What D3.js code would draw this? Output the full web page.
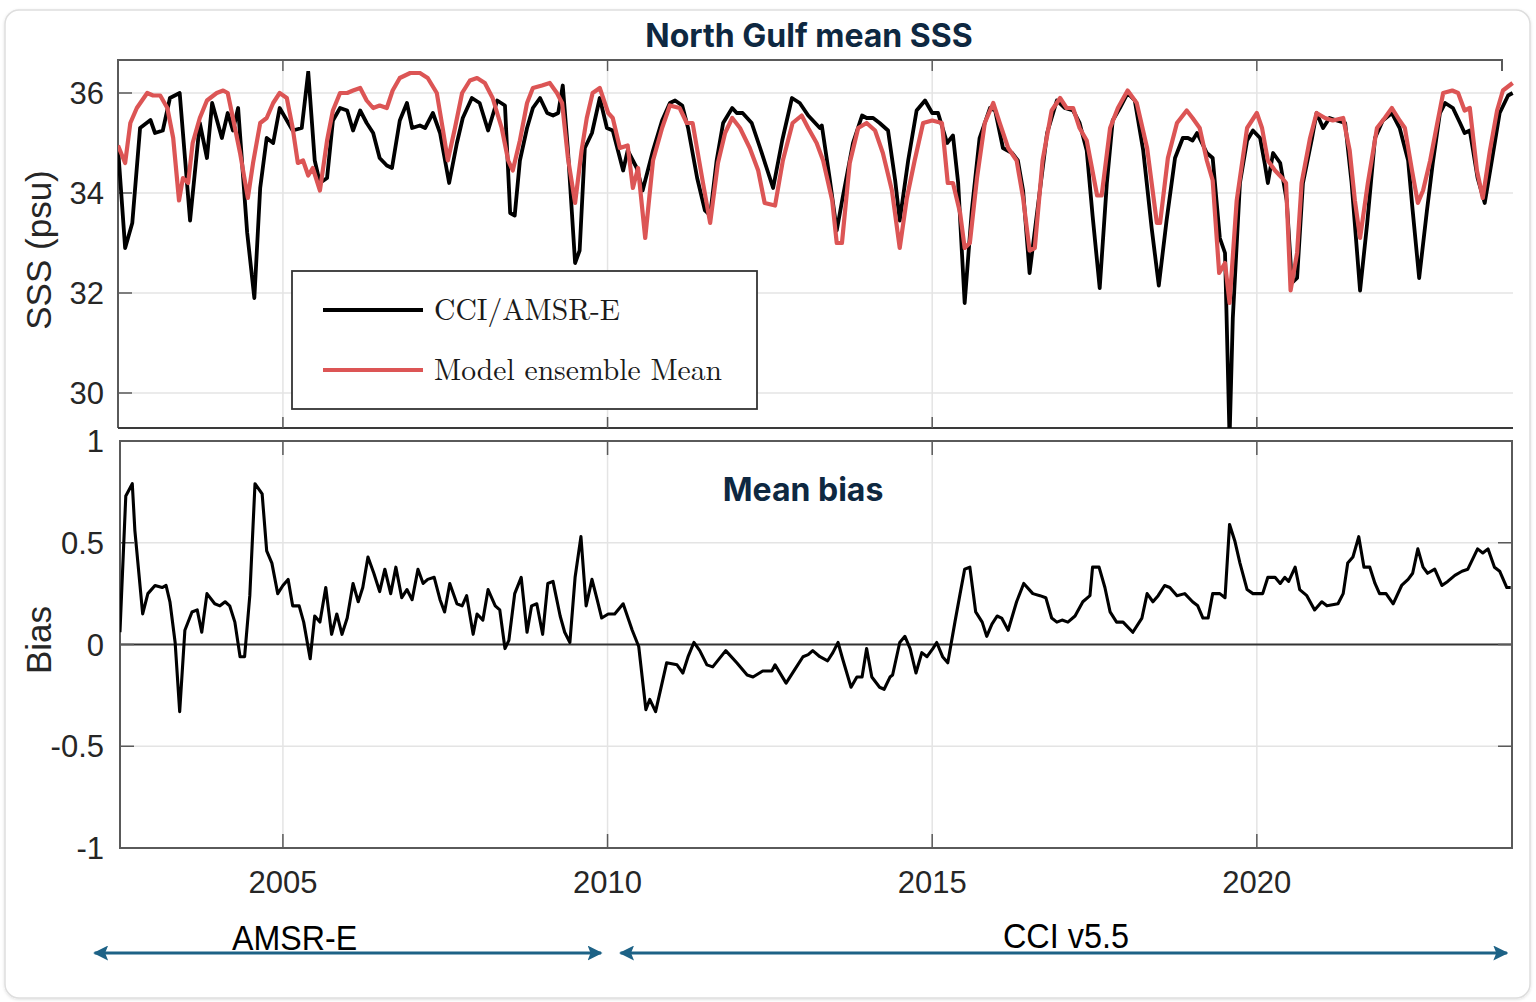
<!DOCTYPE html>
<html>
<head>
<meta charset="utf-8">
<script src="https://cdn.jsdelivr.net/npm/d3@7"></script>
<style>
  html, body { margin: 0; padding: 0; background: #ffffff; }
  svg { display: block; }
</style>
</head>
<body>
<svg id="chart" width="1536" height="1002"></svg>
<script>
// ---- Data -------------------------------------------------------------
// Satellite SSS (CCI / AMSR-E), decimal year and psu
const obsYear = [2002.46,2002.57,2002.68,2002.80,2002.96,2003.03,2003.15,2003.26,2003.41,2003.57,2003.72,2003.83,2003.91,2004.06,2004.15,2004.23,2004.31,2004.45,2004.56,2004.65,2004.75,2004.85,2004.95,2005.15,2005.29,2005.39,2005.49,2005.57,2005.68,2005.77,2005.88,2005.99,2006.08,2006.19,2006.29,2006.39,2006.49,2006.60,2006.68,2006.80,2006.91,2006.99,2007.11,2007.19,2007.31,2007.42,2007.56,2007.68,2007.77,2007.91,2008.03,2008.16,2008.30,2008.42,2008.50,2008.57,2008.65,2008.76,2008.85,2008.96,2009.07,2009.16,2009.24,2009.31,2009.39,2009.50,2009.57,2009.65,2009.76,2009.88,2009.99,2010.08,2010.16,2010.24,2010.31,2010.45,2010.54,2010.70,2010.84,2010.96,2011.04,2011.15,2011.24,2011.38,2011.50,2011.58,2011.68,2011.78,2011.92,2011.99,2012.08,2012.22,2012.35,2012.45,2012.55,2012.69,2012.84,2012.96,2013.09,2013.27,2013.30,2013.42,2013.53,2013.62,2013.78,2013.92,2013.99,2014.09,2014.19,2014.32,2014.43,2014.50,2014.63,2014.76,2014.89,2015.00,2015.09,2015.23,2015.32,2015.40,2015.50,2015.61,2015.73,2015.89,2015.97,2016.09,2016.23,2016.32,2016.40,2016.50,2016.61,2016.77,2016.92,2017.04,2017.17,2017.27,2017.38,2017.47,2017.58,2017.69,2017.78,2017.89,2018.01,2018.12,2018.25,2018.38,2018.49,2018.61,2018.74,2018.86,2018.94,2019.01,2019.08,2019.23,2019.32,2019.43,2019.51,2019.58,2019.63,2019.74,2019.85,2019.94,2020.05,2020.12,2020.17,2020.25,2020.36,2020.46,2020.54,2020.62,2020.71,2020.85,2020.92,2021.02,2021.12,2021.23,2021.36,2021.46,2021.59,2021.70,2021.82,2021.94,2022.08,2022.20,2022.33,2022.40,2022.50,2022.62,2022.71,2022.82,2022.90,2023.02,2023.13,2023.20,2023.28,2023.40,2023.51,2023.62,2023.74,2023.87,2023.94];
const obsSSS = [34.9,32.9,33.4,35.3,35.46,35.2,35.25,35.9,36.0,33.45,35.4,34.7,35.8,35.1,35.6,35.25,35.7,33.2,31.9,34.1,35.1,35.0,35.7,35.25,35.3,36.42,34.65,34.2,34.3,35.45,35.7,35.65,35.25,35.65,35.4,35.2,34.7,34.55,34.5,35.45,35.8,35.3,35.35,35.3,35.6,35.2,34.2,35.0,35.5,35.9,35.8,35.25,35.85,35.75,33.6,33.55,34.65,35.3,35.7,35.9,35.6,35.55,35.6,36.15,34.85,32.6,32.85,34.9,35.2,35.9,35.3,35.25,34.85,34.45,34.85,34.5,34.05,34.85,35.45,35.8,35.85,35.75,35.3,34.3,33.65,33.55,34.65,35.4,35.7,35.6,35.6,35.4,34.9,34.5,34.1,35.05,35.9,35.8,35.55,35.3,35.35,34.3,33.25,33.9,35.0,35.55,35.5,35.5,35.4,35.25,34.25,33.45,34.65,35.65,35.85,35.6,35.6,35.0,35.15,34.2,31.8,33.65,35.1,35.7,35.65,34.9,34.8,34.65,34.05,32.4,33.55,35.2,35.85,35.7,35.65,35.4,34.85,33.55,32.1,34.2,35.45,35.7,36.0,35.85,34.85,33.3,32.15,33.45,34.7,35.1,35.1,35.05,35.2,34.8,34.7,33.1,32.8,29.1,31.5,34.2,35.05,35.25,35.1,34.6,34.2,34.8,34.6,33.85,32.2,32.3,34.2,35.1,35.6,35.3,35.5,35.45,35.4,34.2,32.05,33.4,35.1,35.45,35.6,35.3,34.65,33.65,32.3,33.65,34.6,35.6,35.8,35.7,35.4,35.2,35.25,34.3,33.8,34.65,35.6,35.95,36.0];

// Model ensemble mean SSS, decimal year and psu
const modelYear = [2002.46,2002.57,2002.65,2002.75,2002.91,2003.00,2003.11,2003.22,2003.31,2003.40,2003.46,2003.54,2003.61,2003.72,2003.83,2003.98,2004.08,2004.15,2004.23,2004.34,2004.46,2004.54,2004.65,2004.75,2004.85,2004.95,2005.06,2005.15,2005.23,2005.31,2005.39,2005.46,2005.57,2005.68,2005.77,2005.88,2005.99,2006.08,2006.19,2006.29,2006.39,2006.49,2006.60,2006.69,2006.80,2006.96,2007.11,2007.23,2007.37,2007.46,2007.54,2007.65,2007.76,2007.88,2007.99,2008.11,2008.23,2008.37,2008.47,2008.54,2008.65,2008.76,2008.85,2008.99,2009.11,2009.22,2009.30,2009.39,2009.50,2009.60,2009.68,2009.77,2009.88,2010.01,2010.08,2010.19,2010.31,2010.39,2010.47,2010.58,2010.70,2010.84,2010.96,2011.11,2011.22,2011.31,2011.47,2011.58,2011.70,2011.81,2011.92,2012.04,2012.19,2012.32,2012.42,2012.58,2012.70,2012.85,2012.99,2013.09,2013.22,2013.32,2013.46,2013.53,2013.61,2013.73,2013.86,2013.99,2014.12,2014.24,2014.38,2014.50,2014.61,2014.73,2014.86,2015.00,2015.15,2015.24,2015.32,2015.43,2015.50,2015.58,2015.69,2015.81,2015.94,2016.04,2016.17,2016.30,2016.40,2016.50,2016.58,2016.70,2016.84,2016.97,2017.07,2017.17,2017.27,2017.38,2017.54,2017.61,2017.74,2017.86,2018.01,2018.15,2018.31,2018.46,2018.51,2018.63,2018.77,2018.92,2019.01,2019.12,2019.23,2019.32,2019.42,2019.51,2019.58,2019.69,2019.85,2020.00,2020.08,2020.17,2020.28,2020.39,2020.45,2020.52,2020.62,2020.69,2020.82,2020.92,2021.05,2021.17,2021.33,2021.43,2021.51,2021.59,2021.71,2021.85,2021.97,2022.08,2022.20,2022.28,2022.39,2022.48,2022.56,2022.67,2022.78,2022.87,2023.01,2023.10,2023.20,2023.28,2023.39,2023.48,2023.59,2023.70,2023.79,2023.94];
const modelSSS = [34.95,34.6,35.4,35.7,36.0,35.95,35.95,35.7,35.1,33.85,34.3,34.2,35.0,35.5,35.85,36.0,36.05,36.0,35.5,34.8,33.9,34.6,35.4,35.5,35.8,36.0,35.9,35.3,34.6,34.65,34.35,34.5,34.05,35.05,35.65,36.0,36.0,36.05,36.1,35.85,35.7,35.75,35.7,36.05,36.3,36.4,36.4,36.3,36.0,35.3,34.65,35.3,36.0,36.25,36.3,36.2,35.9,35.3,34.65,34.45,35.05,35.8,36.1,36.15,36.2,36.0,35.8,34.7,33.8,34.85,35.5,36.0,36.1,35.6,35.5,34.9,34.95,34.1,34.5,33.1,34.65,35.3,35.75,35.7,35.4,35.4,34.2,33.4,34.6,35.2,35.5,35.3,34.9,34.45,33.8,33.75,34.65,35.4,35.55,35.3,35.0,34.65,33.85,33.0,33.0,34.6,35.3,35.4,35.25,34.8,34.05,32.9,33.9,34.65,35.4,35.45,35.4,34.2,34.2,33.6,32.9,33.0,34.3,35.4,35.8,35.4,34.9,34.65,33.9,32.85,32.9,34.65,35.65,35.9,35.7,35.7,35.3,35.05,33.95,33.95,35.3,35.7,36.05,35.8,34.9,33.4,33.4,34.7,35.4,35.65,35.5,35.3,34.65,34.25,32.4,32.6,31.8,33.85,35.3,35.6,35.3,34.65,34.45,34.3,34.2,32.05,32.8,34.2,35.1,35.6,35.5,35.45,35.5,34.85,33.85,33.1,34.2,35.3,35.5,35.7,35.45,35.3,34.45,33.8,34.05,34.65,35.4,36.0,36.05,36.0,35.65,35.7,34.45,33.9,34.85,35.65,36.05,36.2];

// Mean bias, decimal year and psu
const biasYear = [2002.49,2002.58,2002.68,2002.72,2002.84,2002.92,2003.03,2003.14,2003.20,2003.26,2003.34,2003.41,2003.49,2003.60,2003.68,2003.75,2003.83,2003.95,2004.03,2004.11,2004.18,2004.26,2004.34,2004.41,2004.49,2004.57,2004.68,2004.75,2004.83,2004.92,2005.00,2005.08,2005.15,2005.25,2005.32,2005.42,2005.49,2005.57,2005.66,2005.75,2005.83,2005.91,2005.99,2006.08,2006.16,2006.23,2006.31,2006.40,2006.49,2006.57,2006.66,2006.74,2006.83,2006.91,2006.99,2007.08,2007.16,2007.23,2007.33,2007.42,2007.49,2007.57,2007.68,2007.76,2007.83,2007.93,2007.99,2008.08,2008.16,2008.27,2008.34,2008.42,2008.48,2008.57,2008.67,2008.76,2008.83,2008.91,2009.00,2009.08,2009.16,2009.27,2009.34,2009.42,2009.50,2009.59,2009.67,2009.76,2009.84,2009.91,2010.01,2010.11,2010.24,2010.38,2010.48,2010.59,2010.65,2010.74,2010.91,2011.07,2011.16,2011.24,2011.33,2011.42,2011.53,2011.62,2011.82,2011.99,2012.15,2012.24,2012.39,2012.53,2012.58,2012.75,2012.89,2013.01,2013.09,2013.16,2013.27,2013.39,2013.47,2013.55,2013.62,2013.75,2013.84,2013.92,2013.99,2014.07,2014.19,2014.26,2014.35,2014.39,2014.50,2014.58,2014.66,2014.75,2014.84,2014.92,2015.01,2015.07,2015.16,2015.24,2015.35,2015.43,2015.50,2015.58,2015.67,2015.77,2015.84,2015.92,2016.00,2016.07,2016.17,2016.30,2016.41,2016.55,2016.66,2016.75,2016.84,2016.92,2017.00,2017.09,2017.20,2017.32,2017.43,2017.47,2017.57,2017.66,2017.74,2017.84,2017.94,2018.09,2018.23,2018.31,2018.40,2018.48,2018.58,2018.66,2018.77,2018.89,2019.01,2019.09,2019.17,2019.25,2019.32,2019.43,2019.51,2019.58,2019.66,2019.74,2019.85,2019.94,2020.05,2020.09,2020.17,2020.28,2020.36,2020.43,2020.49,2020.59,2020.66,2020.77,2020.89,2021.00,2021.08,2021.25,2021.33,2021.40,2021.48,2021.57,2021.65,2021.74,2021.82,2021.89,2021.99,2022.10,2022.23,2022.33,2022.40,2022.48,2022.56,2022.63,2022.74,2022.85,2022.94,2023.05,2023.16,2023.25,2023.40,2023.48,2023.56,2023.66,2023.74,2023.85,2023.91];
const biasVal = [0.06,0.73,0.79,0.56,0.15,0.25,0.29,0.28,0.29,0.21,0.01,-0.33,0.07,0.16,0.17,0.06,0.25,0.20,0.19,0.21,0.19,0.11,-0.06,-0.06,0.24,0.79,0.74,0.46,0.40,0.25,0.29,0.32,0.19,0.19,0.11,-0.07,0.14,0.11,0.28,0.05,0.15,0.05,0.13,0.30,0.21,0.28,0.43,0.35,0.26,0.37,0.25,0.38,0.23,0.27,0.22,0.37,0.30,0.32,0.33,0.22,0.16,0.30,0.20,0.19,0.24,0.05,0.15,0.12,0.27,0.19,0.17,-0.02,0.02,0.25,0.33,0.06,0.19,0.20,0.05,0.30,0.31,0.14,0.06,0.01,0.33,0.53,0.19,0.32,0.22,0.13,0.15,0.15,0.20,0.07,-0.01,-0.32,-0.27,-0.33,-0.09,-0.10,-0.14,-0.06,0.01,-0.03,-0.10,-0.11,-0.03,-0.09,-0.15,-0.16,-0.13,-0.13,-0.10,-0.19,-0.12,-0.06,-0.05,-0.03,-0.06,-0.08,-0.04,0.01,-0.07,-0.21,-0.16,-0.16,-0.02,-0.16,-0.21,-0.22,-0.16,-0.15,0.01,0.04,-0.02,-0.14,-0.04,-0.06,-0.02,0.01,-0.06,-0.09,0.11,0.25,0.37,0.38,0.16,0.11,0.04,0.10,0.14,0.13,0.07,0.21,0.30,0.25,0.24,0.23,0.13,0.11,0.12,0.11,0.14,0.21,0.24,0.38,0.38,0.28,0.16,0.11,0.11,0.06,0.13,0.25,0.21,0.24,0.29,0.28,0.24,0.25,0.21,0.19,0.13,0.13,0.25,0.25,0.23,0.59,0.51,0.40,0.27,0.25,0.25,0.25,0.33,0.33,0.30,0.33,0.31,0.38,0.27,0.24,0.17,0.21,0.19,0.20,0.25,0.40,0.43,0.53,0.38,0.38,0.30,0.25,0.25,0.20,0.29,0.32,0.35,0.47,0.38,0.35,0.37,0.29,0.31,0.34,0.36,0.37,0.47,0.45,0.47,0.38,0.36,0.28,0.28];

// Axis ticks
const yearTicks = [2005, 2010, 2015, 2020];
const sssTicks = [30, 32, 34, 36];
const biasTicks = [-1, -0.5, 0, 0.5, 1];
const biasTickLabels = ["-1", "-0.5", "0", "0.5", "1"];

// Legend entries and satellite periods
const legendLabels = ["CCI/AMSR-E", "Model ensemble Mean"];
const periodLabels = ["AMSR-E", "CCI v5.5"];
const periodStart = [2002.1, 2010.2];
const periodEnd = [2009.9, 2023.85];
const periodLabelYear = [2005.18, 2017.06];

// ---- Layout ------------------------------------------------------------
const svg = d3.select("#chart");
const C_OBS = "#000000";
const C_MODEL = "#dc5555";
const C_TEXT = "#262626";
const C_TITLE = "#0e2841";
const C_GRID = "#e4e4e4";
const C_AXIS = "#5a5a5a";
const C_ARROW = "#1d6286";
const TICK_FONT = "'Liberation Sans', Arial, Helvetica, sans-serif";

const x = d3.scaleLinear().domain([2002.46, 2023.93]).range([118, 1512]);
const ySSS = d3.scaleLinear().domain([29.3, 36.66]).range([428, 60]);
const yBias = d3.scaleLinear().domain([-1, 1]).range([848, 441]);

// card background, clip regions and arrow heads
svg.append("defs").html(`
  <filter id="cardShadow" x="-2%" y="-2%" width="104%" height="104%">
    <feDropShadow dx="0" dy="1" stdDeviation="1.5" flood-color="#000" flood-opacity="0.12"/>
  </filter>
  <clipPath id="clipTop"><rect x="118" y="71" width="1396" height="357"/></clipPath>
  <clipPath id="clipBottom"><rect x="120" y="441" width="1392" height="407"/></clipPath>
  <marker id="arrowHead" viewBox="0 0 10 10" refX="9" refY="5" markerWidth="5" markerHeight="5" orient="auto-start-reverse" markerUnits="strokeWidth">
    <path d="M0,0 L10,5 L0,10 L2,5 Z" fill="${C_ARROW}"/>
  </marker>
`);
svg.append("rect")
  .attr("x", 5).attr("y", 10).attr("width", 1525).attr("height", 988)
  .attr("rx", 14).attr("fill", "#ffffff")
  .attr("stroke", "#dedede").attr("stroke-width", 1.5)
  .attr("filter", "url(#cardShadow)");

// ---- Top panel: SSS ----------------------------------------------------
const sssPanel = svg.append("g");

// horizontal grid
sssPanel.append("g").selectAll("line").data(sssTicks).join("line")
  .attr("x1", 118).attr("x2", 1513)
  .attr("y1", d => ySSS(d)).attr("y2", d => ySSS(d))
  .attr("stroke", C_GRID).attr("stroke-width", 1.5);
// vertical grid
sssPanel.append("g").selectAll("line").data(yearTicks).join("line")
  .attr("x1", d => x(d)).attr("x2", d => x(d))
  .attr("y1", 71).attr("y2", 428)
  .attr("stroke", C_GRID).attr("stroke-width", 1.5);

// frame
sssPanel.append("path")
  .attr("d", `M118,428 L118,60 L1502,60 L1502,71`)
  .attr("fill", "none").attr("stroke", C_AXIS).attr("stroke-width", 2);
sssPanel.append("line")
  .attr("x1", 118).attr("x2", 1513).attr("y1", 428).attr("y2", 428)
  .attr("stroke", "#3a3a3a").attr("stroke-width", 2);

// tick marks
sssPanel.append("g").selectAll("line").data(yearTicks).join("line")
  .attr("x1", d => x(d)).attr("x2", d => x(d))
  .attr("y1", 60).attr("y2", 71)
  .attr("stroke", C_AXIS).attr("stroke-width", 1.5);
sssPanel.append("g").selectAll("line").data(yearTicks).join("line")
  .attr("x1", d => x(d)).attr("x2", d => x(d))
  .attr("y1", 417).attr("y2", 428)
  .attr("stroke", C_AXIS).attr("stroke-width", 1.5);
sssPanel.append("g").selectAll("line").data(sssTicks).join("line")
  .attr("x1", 118).attr("x2", 132)
  .attr("y1", d => ySSS(d)).attr("y2", d => ySSS(d))
  .attr("stroke", C_AXIS).attr("stroke-width", 1.5);

// y tick labels
sssPanel.append("g").selectAll("text").data(sssTicks).join("text")
  .attr("x", 104).attr("y", d => ySSS(d))
  .attr("dy", "0.36em")
  .attr("text-anchor", "end")
  .attr("font-family", TICK_FONT).attr("font-size", 31)
  .attr("fill", C_TEXT)
  .text(d => d);

// y axis label
sssPanel.append("text")
  .attr("transform", "translate(51,250) rotate(-90)")
  .attr("text-anchor", "middle")
  .attr("font-family", TICK_FONT).attr("font-size", 35)
  .attr("fill", C_TEXT)
  .text("SSS (psu)");

// series lines
const lineSSS = d3.line().x(d => x(d[0])).y(d => ySSS(d[1])).curve(d3.curveLinear);
const obsPts = d3.zip(obsYear, obsSSS);
const modelPts = d3.zip(modelYear, modelSSS);
const plotTop = sssPanel.append("g").attr("clip-path", "url(#clipTop)");
plotTop.append("path").datum(obsPts)
  .attr("d", lineSSS)
  .attr("fill", "none").attr("stroke", C_OBS)
  .attr("stroke-width", 3.8).attr("stroke-linejoin", "round");
plotTop.append("path").datum(modelPts)
  .attr("d", lineSSS)
  .attr("fill", "none").attr("stroke", C_MODEL)
  .attr("stroke-width", 4.2).attr("stroke-linejoin", "round");

// title
svg.append("text")
  .attr("x", 809).attr("y", 47)
  .attr("text-anchor", "middle")
  .attr("font-family", "Inter, 'Open Sans', sans-serif")
  .attr("font-weight", 700).attr("font-size", 32)
  .attr("fill", C_TITLE)
  .text("North Gulf mean SSS");

// legend
const legend = svg.append("g");
legend.append("rect")
  .attr("x", 292).attr("y", 271).attr("width", 465).attr("height", 138)
  .attr("fill", "#ffffff").attr("stroke", "#333333").attr("stroke-width", 1.8);
const legendColors = [C_OBS, C_MODEL];
const legendRowY = [310, 370];
legend.selectAll("line.key").data(legendLabels).join("line")
  .attr("class", "key")
  .attr("x1", 323).attr("x2", 423)
  .attr("y1", (d, i) => legendRowY[i]).attr("y2", (d, i) => legendRowY[i])
  .attr("stroke", (d, i) => legendColors[i]).attr("stroke-width", 3.8);
const legendWidths = [186, 288];
legend.selectAll("text").data(legendLabels).join("text")
  .attr("x", 434).attr("y", (d, i) => legendRowY[i] + 10)
  .attr("font-family", "'Latin Modern Roman', 'CMU Serif', 'Liberation Serif', 'DejaVu Serif', serif")
  .attr("font-size", 30)
  .attr("fill", "#1a1a1a")
  .attr("textLength", (d, i) => legendWidths[i])
  .attr("lengthAdjust", "spacingAndGlyphs")
  .text(d => d);

// ---- Bottom panel: bias -------------------------------------------------
const biasPanel = svg.append("g");

// grid
biasPanel.append("g").selectAll("line").data(biasTicks.filter(d => d !== 0 && Math.abs(d) !== 1)).join("line")
  .attr("x1", 120).attr("x2", 1512)
  .attr("y1", d => yBias(d)).attr("y2", d => yBias(d))
  .attr("stroke", C_GRID).attr("stroke-width", 1.5);
biasPanel.append("g").selectAll("line").data(yearTicks).join("line")
  .attr("x1", d => x(d)).attr("x2", d => x(d))
  .attr("y1", 441).attr("y2", 848)
  .attr("stroke", C_GRID).attr("stroke-width", 1.5);

// zero line
biasPanel.append("line")
  .attr("x1", 120).attr("x2", 1512)
  .attr("y1", yBias(0)).attr("y2", yBias(0))
  .attr("stroke", "#333333").attr("stroke-width", 1.8);

// tick marks
biasPanel.append("g").selectAll("line").data(yearTicks).join("line")
  .attr("x1", d => x(d)).attr("x2", d => x(d))
  .attr("y1", 441).attr("y2", 455)
  .attr("stroke", C_AXIS).attr("stroke-width", 1.5);
biasPanel.append("g").selectAll("line").data(yearTicks).join("line")
  .attr("x1", d => x(d)).attr("x2", d => x(d))
  .attr("y1", 834).attr("y2", 848)
  .attr("stroke", C_AXIS).attr("stroke-width", 1.5);
biasPanel.append("g").selectAll("line").data(biasTicks).join("line")
  .attr("x1", 120).attr("x2", 134)
  .attr("y1", d => yBias(d)).attr("y2", d => yBias(d))
  .attr("stroke", C_AXIS).attr("stroke-width", 1.5);
biasPanel.append("g").selectAll("line").data(biasTicks).join("line")
  .attr("x1", 1498).attr("x2", 1512)
  .attr("y1", d => yBias(d)).attr("y2", d => yBias(d))
  .attr("stroke", C_AXIS).attr("stroke-width", 1.5);

// frame
biasPanel.append("rect")
  .attr("x", 120).attr("y", 441).attr("width", 1392).attr("height", 407)
  .attr("fill", "none").attr("stroke", C_AXIS).attr("stroke-width", 2);

// tick labels
biasPanel.append("g").selectAll("text").data(biasTicks).join("text")
  .attr("x", 104).attr("y", d => yBias(d))
  .attr("dy", "0.36em")
  .attr("text-anchor", "end")
  .attr("font-family", TICK_FONT).attr("font-size", 31)
  .attr("fill", C_TEXT)
  .text((d, i) => biasTickLabels[i]);
biasPanel.append("g").selectAll("text").data(yearTicks).join("text")
  .attr("x", d => x(d)).attr("y", 893)
  .attr("text-anchor", "middle")
  .attr("font-family", TICK_FONT).attr("font-size", 31)
  .attr("fill", C_TEXT)
  .text(d => d);

// y axis label
biasPanel.append("text")
  .attr("transform", "translate(51,640) rotate(-90)")
  .attr("text-anchor", "middle")
  .attr("font-family", TICK_FONT).attr("font-size", 35)
  .attr("fill", C_TEXT)
  .text("Bias");

// bias line
const lineBias = d3.line().x(d => x(d[0])).y(d => yBias(d[1]));
biasPanel.append("g").attr("clip-path", "url(#clipBottom)")
  .append("path").datum(d3.zip(biasYear, biasVal))
  .attr("d", lineBias)
  .attr("fill", "none").attr("stroke", "#000000")
  .attr("stroke-width", 3.1).attr("stroke-linejoin", "round");

// panel title
svg.append("text")
  .attr("x", 803).attr("y", 501)
  .attr("text-anchor", "middle")
  .attr("font-family", "Inter, 'Open Sans', sans-serif")
  .attr("font-weight", 700).attr("font-size", 32)
  .attr("fill", C_TITLE)
  .text("Mean bias");

// ---- Satellite periods -------------------------------------------------
const periodGroup = svg.append("g");
const periodWidths = [125, 126];
periodGroup.selectAll("line").data(periodLabels).join("line")
  .attr("x1", (d, i) => x(periodStart[i])).attr("x2", (d, i) => x(periodEnd[i]))
  .attr("y1", 953).attr("y2", 953)
  .attr("stroke", C_ARROW).attr("stroke-width", 3)
  .attr("marker-start", "url(#arrowHead)")
  .attr("marker-end", "url(#arrowHead)");
periodGroup.selectAll("text").data(periodLabels).join("text")
  .attr("x", (d, i) => x(periodLabelYear[i]))
  .attr("y", (d, i) => 950 - i * 2)
  .attr("text-anchor", "middle")
  .attr("font-family", TICK_FONT).attr("font-size", 35)
  .attr("fill", "#000000")
  .attr("textLength", (d, i) => periodWidths[i])
  .attr("lengthAdjust", "spacingAndGlyphs")
  .text(d => d);
</script>
</body>
</html>
